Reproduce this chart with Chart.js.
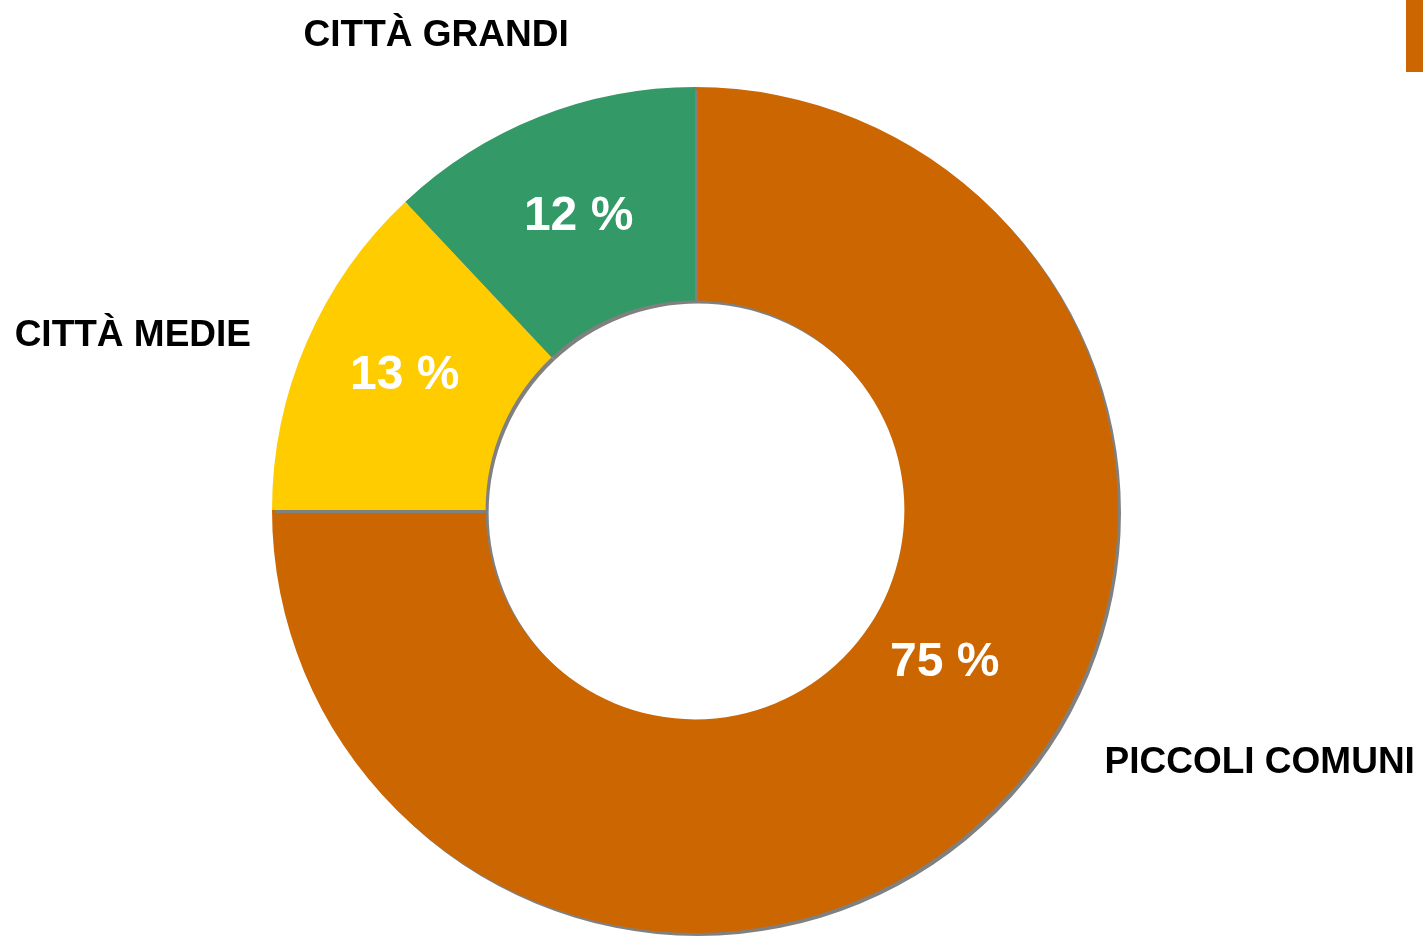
<!DOCTYPE html>
<html>
<head>
<meta charset="utf-8">
<script src="https://cdn.jsdelivr.net/npm/chart.js@4/dist/chart.umd.min.js"></script>
<style>
  body { margin: 0; background: #fff; }
  #wrap { position: relative; width: 1423px; height: 937px; }
  #legendStub { position: absolute; left: 1406px; top: 0; width: 17px; height: 72px; background: #cc6600; }
</style>
</head>
<body>
<div id="wrap">
  <canvas id="donutChart" width="1423" height="937"></canvas>
  <div id="legendStub"></div>
</div>
<script>
const categories = ['PICCOLI COMUNI', 'CITTÀ MEDIE', 'CITTÀ GRANDI'];
const shares = [75, 13, 12];
const sliceColors = ['#cc6600', '#ffcc00', '#339966'];

// where each category name sits, relative to centre, in units of the outer radius
const namePos = [
  { dx: 1.335, dy: 0.597 },
  { dx: -1.329, dy: -0.411 },
  { dx: -0.612, dy: -1.120 }
];

const shadowPlugin = {
  id: 'shadow',
  beforeDatasetsDraw(chart) {
    const ctx = chart.ctx;
    ctx.save();
    ctx.shadowColor = '#808080';
    ctx.shadowOffsetX = 3;
    ctx.shadowOffsetY = 3;
    ctx.shadowBlur = 0;
  },
  afterDatasetsDraw(chart) {
    chart.ctx.restore();
  }
};

const labelPlugin = {
  id: 'labels',
  afterDraw(chart) {
    const ctx = chart.ctx;
    const meta = chart.getDatasetMeta(0);
    ctx.save();
    ctx.textAlign = 'center';
    ctx.textBaseline = 'middle';
    meta.data.forEach(function (arc, i) {
      const cx = arc.x, cy = arc.y, r = arc.outerRadius;
      // percentage inside the slice
      let p;
      if (i === 0) {
        const a = (121.3 - 90) * Math.PI / 180;
        const rr = (arc.innerRadius + arc.outerRadius) / 2 - 24;
        p = { x: cx + rr * Math.cos(a), y: cy + rr * Math.sin(a) };
      } else {
        p = arc.tooltipPosition();
      }
      ctx.fillStyle = '#ffffff';
      ctx.font = 'bold 48px "Liberation Sans", Arial, sans-serif';
      ctx.fillText(shares[i] + ' %', p.x, p.y + (i === 1 ? -9 : 1));
      // category name outside
      ctx.fillStyle = '#000000';
      ctx.font = 'bold 37px "Liberation Sans", Arial, sans-serif';
      ctx.fillText(categories[i], cx + namePos[i].dx * r, cy + namePos[i].dy * r);
    });
    ctx.restore();
  }
};

new Chart(document.getElementById('donutChart').getContext('2d'), {
  type: 'doughnut',
  data: {
    labels: categories,
    datasets: [{
      data: shares,
      backgroundColor: sliceColors,
      borderWidth: 0
    }]
  },
  options: {
    responsive: false,
    animation: false,
    cutout: '49.5%',
    layout: { padding: { left: 272, right: 305, top: 87, bottom: 4 } },
    plugins: {
      legend: { display: false },
      tooltip: { enabled: false }
    }
  },
  plugins: [shadowPlugin, labelPlugin]
});
</script>
</body>
</html>
